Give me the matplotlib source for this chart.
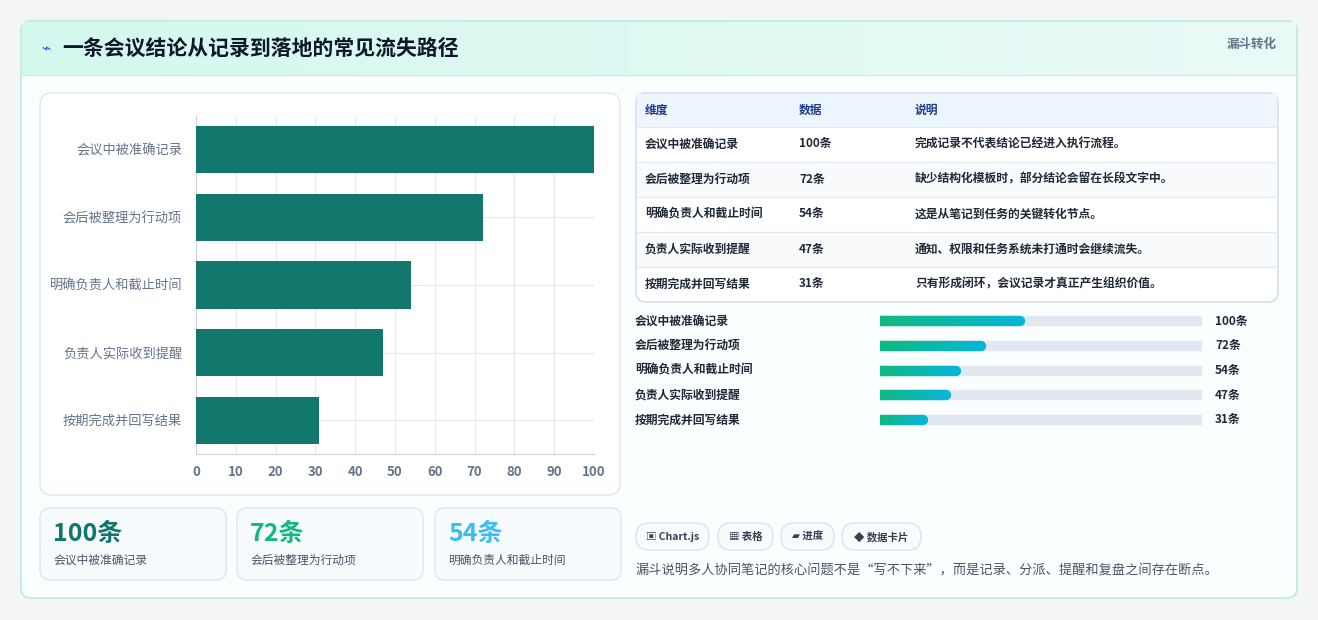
import matplotlib
matplotlib.use("Agg")
import matplotlib.pyplot as plt
from matplotlib.patches import FancyBboxPatch, Rectangle
import numpy as np

plt.rcParams['font.family'] = ['Noto Sans CJK SC', 'DejaVu Sans']

categories = ["会议中被准确记录", "会后被整理为行动项", "明确负责人和截止时间", "负责人实际收到提醒", "按期完成并回写结果"]
values = [100, 72, 54, 47, 31]
notes = ["完成记录不代表结论已经进入执行流程。", "缺少结构化模板时，部分结论会留在长段文字中。",
         "这是从笔记到任务的关键转化节点。", "通知、权限和任务系统未打通时会继续流失。",
         "只有形成闭环，会议记录才真正产生组织价值。"]
headers = ["维度", "数据", "说明"]
xticks = [0, 10, 20, 30, 40, 50, 60, 70, 80, 90, 100]
title = "一条会议结论从记录到落地的常见流失路径"
tag = "漏斗转化"
chips = ["▣ Chart.js", "▦ 表格", "▰ 进度", "◆ 数据卡片"]
footer = "漏斗说明多人协同笔记的核心问题不是“写不下来”，而是记录、分派、提醒和复盘之间存在断点。"
kpi_colors = ["#0f766e", "#10b981", "#38bdf8"]

W, H = 1318, 620
fig = plt.figure(figsize=(W/100, H/100), dpi=100)
fig.patch.set_facecolor("#f3f5f7")
bg = fig.add_axes([0, 0, 1, 1])
bg.set_xlim(0, W); bg.set_ylim(H, 0); bg.axis("off")

def rbox(x, y, w, h, r, fc, ec="none", lw=1, z=1):
    p = FancyBboxPatch((x+r, y+r), w-2*r, h-2*r, boxstyle=f"round,pad={r}",
                       fc=fc, ec=ec, lw=lw, zorder=z)
    bg.add_patch(p)

# outer card
rbox(21, 21, 1276, 577, 10, "#fbfefe", "#b9ecdf", 1.2)
# header gradient
grad = np.linspace(0, 1, 256).reshape(1, -1)
from matplotlib.colors import LinearSegmentedColormap
cm = LinearSegmentedColormap.from_list("g", ["#d3f8ee", "#eafaf7"])
bg.imshow(grad, extent=(22, 1296, 75, 22), cmap=cm, aspect="auto", zorder=2)
bg.plot([22, 1296], [75, 75], color="#cdeee6", lw=1, zorder=3)
bg.text(46, 48, "⌁", color="#2563eb", fontsize=11, ha="center", va="center", zorder=4, fontweight="bold")
bg.text(62, 48, title, fontsize=15, fontweight="bold", color="#0f172a", va="center", zorder=4)
bg.text(1277, 44, tag, fontsize=9, fontweight="bold", color="#64748b", ha="right", va="center", zorder=4)

# chart panel
rbox(40, 93, 580, 402, 12, "white", "#dfe7ee", 1)

ax = fig.add_axes([196/W, 1-454/H, 398/W, 338/H])
y = np.arange(len(categories))
ax.barh(y, values, height=0.7, color="#12776d", zorder=3)
ax.set_ylim(4.5, -0.5)
ax.set_xlim(0, 100)
ax.set_xticks(xticks)
ax.set_yticks(y, categories)
ax.grid(True, color="#e5e9ee", lw=0.8, zorder=0)
ax.tick_params(axis="x", colors="#64748b", labelsize=9.5, length=0, pad=8)
ax.tick_params(axis="y", colors="#64748b", labelsize=9.5, length=0, pad=10)
for t in ax.get_xticklabels():
    t.set_fontweight("bold")
for s in ax.spines.values():
    s.set_visible(False)
ax.spines["left"].set_visible(True); ax.spines["left"].set_color("#cbd5e1")
ax.spines["bottom"].set_visible(True); ax.spines["bottom"].set_color("#cbd5e1")
ax.set_facecolor("none")

# KPI cards
kx = [40, 237, 435]
for i in range(3):
    rbox(kx[i], 508, 186, 72, 10, "#f8fbfd", "#dbe6ee", 1)
    bg.text(kx[i]+13, 534, f"{values[i]}条", fontsize=18, fontweight="bold", color=kpi_colors[i], va="center")
    bg.text(kx[i]+13, 560, categories[i], fontsize=8.5, color="#475569", va="center")

# table
rbox(636, 93, 642, 209, 10, "white", "#c9dbe8", 1)
bg.add_patch(Rectangle((637, 94), 640, 33, fc="#edf5fe", ec="none", zorder=1.5))
colx = [645, 799, 915]
for j, h in enumerate(headers):
    bg.text(colx[j], 110, h, fontsize=8.5, fontweight="bold", color="#1e3a8a", va="center", zorder=3)
for i in range(5):
    top = 127 + 35*i
    if i % 2 == 1:
        bg.add_patch(Rectangle((637, top), 640, 35, fc="#f8fafc", ec="none", zorder=1.5))
    bg.plot([637, 1277], [top, top], color="#e2e8f0", lw=0.8, zorder=2)
    yc = top + 17
    bg.text(colx[0], yc, categories[i], fontsize=8.5, fontweight="bold", color="#1f2937", va="center", zorder=3)
    bg.text(colx[1], yc, f"{values[i]}条", fontsize=8.5, fontweight="bold", color="#1f2937", va="center", zorder=3)
    bg.text(colx[2], yc, notes[i], fontsize=8.5, fontweight="bold", color="#1f2937", va="center", zorder=3)

# progress bars
pax = fig.add_axes([880/W, 1-432/H, 322/W, 123/H])
pax.set_xlim(0, 100); pax.set_ylim(4.5, -0.5); pax.axis("off")
scale = 0.435
for i, v in enumerate(values):
    pax.plot([0, 100], [i, i], color="#e2e8f0", lw=7.5, solid_capstyle="round", zorder=1)
    n = 40
    xs = np.linspace(0, v*scale, n+1)
    cmap = LinearSegmentedColormap.from_list("p", ["#10b981", "#06b6d4"])
    for k in range(n):
        pax.plot([xs[k], xs[k+1]], [i, i], color=cmap(k/n), lw=7.5,
                 solid_capstyle="round" if k in (0, n-1) else "butt", zorder=2)
    yy = 321 + 24.75*i
    bg.text(635, yy, categories[i], fontsize=8.5, fontweight="bold", color="#1f2937", va="center")
    bg.text(1215, yy, f"{v}条", fontsize=8.5, fontweight="bold", color="#1f2937", va="center")

# chips
cx = [636, 718, 781, 842]
cw = [73, 55, 53, 79]
for x0, w0, c in zip(cx, cw, chips):
    rbox(x0, 523, w0, 27, 13, "#f8fafc", "#dbe3ea", 1)
    bg.text(x0 + w0/2, 537, c, fontsize=7.5, fontweight="bold", color="#334155", ha="center", va="center", zorder=3)
bg.text(635, 571, footer, fontsize=9.5, color="#475569", va="center")

fig.savefig("out.png", dpi=100, facecolor=fig.get_facecolor())
